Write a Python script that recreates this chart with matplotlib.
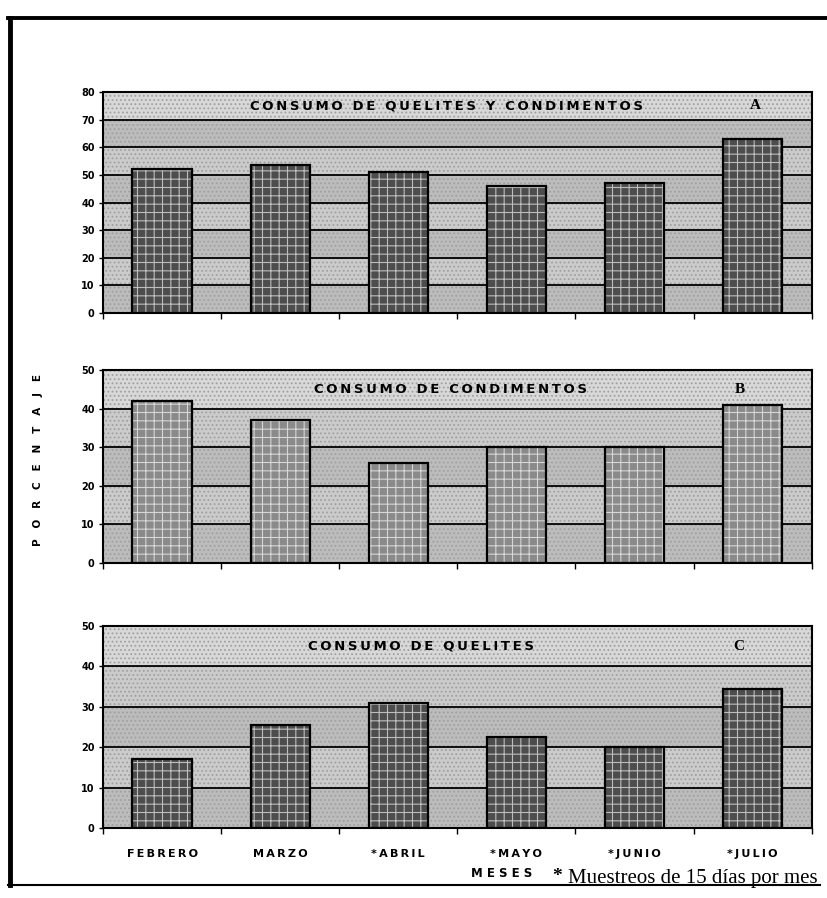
import numpy as np
import matplotlib
matplotlib.use("Agg")
import matplotlib.pyplot as plt
from matplotlib.lines import Line2D

# data
meses = ["FEBRERO", "MARZO", "*ABRIL", "*MAYO", "*JUNIO", "*JULIO"]
quelites_condimentos = [52, 53.5, 51, 46, 47, 63]
condimentos = [42, 37, 26, 30, 30, 41]
quelites = [17, 25.5, 31, 22.5, 20, 34.5]

titulos = ["CONSUMO DE QUELITES Y CONDIMENTOS", "CONSUMO DE CONDIMENTOS", "CONSUMO DE QUELITES"]
letras = ["A", "B", "C"]
ymax = [80, 50, 50]

plt.rcParams['font.family'] = ['DejaVu Sans']
plt.rcParams['hatch.linewidth'] = 0.8


def spaced(s, sep="\u2009"):
    # wide letter spacing like the scanned typeface
    return sep.join(s)


fig = plt.figure(figsize=(8.27, 8.98), dpi=100)

# axes boxes (left, bottom, width, height)
boxes = [(0.1245, 0.6514, 0.857, 0.246),
         (0.1245, 0.373, 0.857, 0.215),
         (0.1245, 0.078, 0.857, 0.225)]
title_x = [0.485, 0.491, 0.449]
letra_x = [0.92, 0.898, 0.897]
bar_face = ["#4d4d4d", "#8a8a8a", "#4d4d4d"]
hatch_col = ["#bdbdbd", "#d6d6d6", "#bdbdbd"]

series = [quelites_condimentos, condimentos, quelites]
x = np.arange(len(meses))

for i, vals in enumerate(series):
    ax = fig.add_axes(boxes[i])
    top = ymax[i]
    ax.set_xlim(-0.5, len(meses) - 0.5)
    ax.set_ylim(0, top)
    ax.set_facecolor("#c6c6c6")
    # alternating bands between gridlines
    for k, y0 in enumerate(range(0, top, 10)):
        shade = "#bcbcbc" if k % 2 == 0 else "#cbcbcb"
        if y0 + 10 == top:
            shade = "#d8d8d8"
        ax.axhspan(y0, y0 + 10, color=shade, zorder=0, lw=0)
        ax.axhspan(y0, y0 + 10, facecolor="none", edgecolor="#a0a0a0",
                   hatch="....", lw=0, zorder=0.5)
    for y in range(10, top, 10):
        ax.axhline(y, color="black", lw=1.3, zorder=1)

    ax.bar(x, vals, width=0.5, color=bar_face[i], edgecolor=hatch_col[i],
           hatch="++", lw=0, zorder=2)
    ax.bar(x, vals, width=0.5, fill=False, edgecolor="black", lw=1.6, zorder=3)

    ax.text(title_x[i], (top - 5) / top, spaced(titulos[i]), transform=ax.transAxes,
            ha="center", va="center", fontsize=9.5, fontweight="bold", zorder=4)
    ax.text(letra_x[i], (top - 5) / top, letras[i], transform=ax.transAxes,
            ha="center", va="center", fontsize=11, fontweight="bold",
            family="Liberation Serif", zorder=4)

    ax.set_yticks(range(0, top + 1, 10))
    ax.tick_params(axis="y", labelsize=7, length=3, width=1, pad=3)
    for lab in ax.get_yticklabels():
        lab.set_fontweight("bold")
    ax.set_xticks(x)
    ax.set_xticks(np.arange(-0.5, len(meses), 1.0), minor=True)
    ax.tick_params(axis="x", which="major", length=0, pad=15)
    ax.tick_params(axis="x", which="minor", length=4, width=1)
    if i == 2:
        ax.set_xticklabels([spaced(m) for m in meses], fontsize=8, fontweight="bold")
    else:
        ax.set_xticklabels([])
    for s in ax.spines.values():
        s.set_linewidth(1.5)

fig.text(0.0459, 0.488, "P   O   R   C   E   N   T   A   J   E", rotation=90,
         ha="center", va="center", fontsize=7.5, fontweight="bold")
fig.text(0.607, 0.027, spaced("MESES", " "), ha="center", va="center", fontsize=8.5,
         fontweight="bold")
fig.text(0.668, 0.024, "*", ha="left", va="center", fontsize=14,
         fontweight="bold", family="Liberation Serif")
fig.text(0.687, 0.022, "Muestreos de 15 días por mes", ha="left", va="center",
         fontsize=15, family="Liberation Serif")

# outer frame of the scanned figure
fig.add_artist(Line2D([0.010, 1.0], [0.980, 0.980], color="black", lw=2.8))
fig.add_artist(Line2D([0.012, 0.012], [0.980, 0.015], color="black", lw=3.5))
fig.add_artist(Line2D([0.010, 0.992], [0.015, 0.015], color="black", lw=1.5))

fig.savefig("out.png", dpi=100)
